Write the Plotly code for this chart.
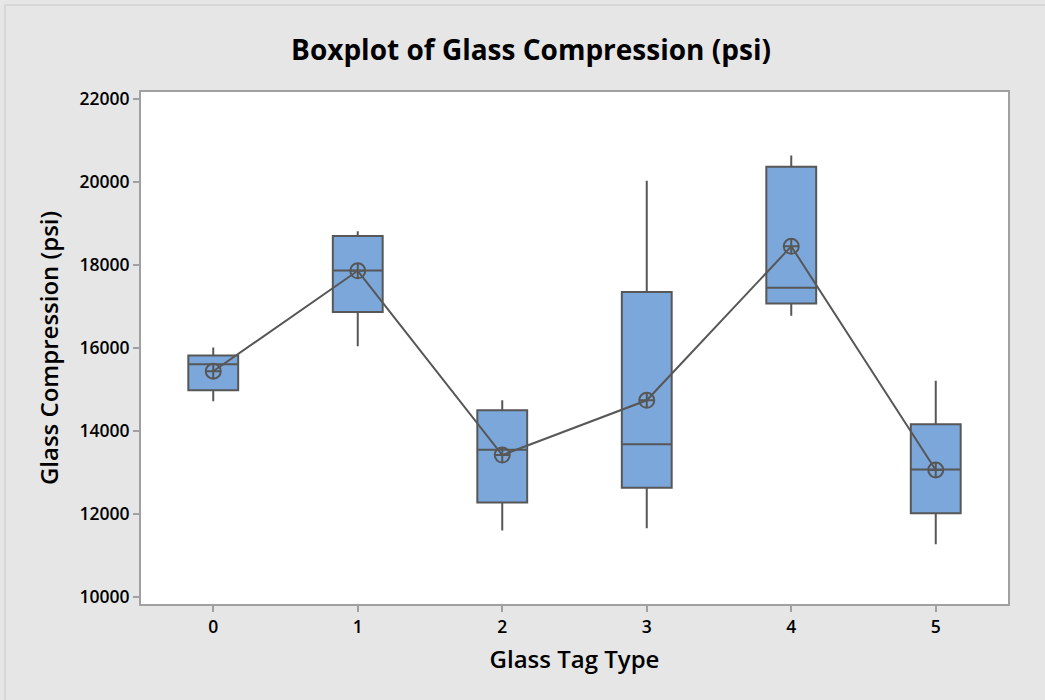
import plotly.graph_objects as go

# Glass tag types and summary statistics of compression (psi)
tag_types = [0, 1, 2, 3, 4, 5]
tick_labels = ["0", "1", "2", "3", "4", "5"]
y_ticks = [10000, 12000, 14000, 16000, 18000, 20000, 22000]
y_tick_labels = ["10000", "12000", "14000", "16000", "18000", "20000", "22000"]
whisker_low = [14720, 16040, 11600, 11660, 16780, 11270]
q1_vals = [14980, 16870, 12280, 12630, 17070, 12020]
medians = [15610, 17870, 13550, 13680, 17450, 13070]
q3_vals = [15820, 18700, 14500, 17350, 20370, 14160]
whisker_high = [16010, 18810, 14740, 20030, 20640, 15210]
means = [15440, 17860, 13420, 14740, 18450, 13060]

box_fill = "#7BA7DA"
line_col = "#575757"
font_family = "Open Sans, Noto Sans, DejaVu Sans, sans-serif"

fig = go.Figure()

for i, t in enumerate(tag_types):
    fig.add_trace(go.Box(
        x=[t],
        q1=[q1_vals[i]],
        median=[medians[i]],
        q3=[q3_vals[i]],
        lowerfence=[whisker_low[i]],
        upperfence=[whisker_high[i]],
        width=0.345,
        whiskerwidth=0,
        fillcolor=box_fill,
        line=dict(color=line_col, width=2),
        boxpoints=False,
        hoverinfo="skip",
        showlegend=False,
    ))

# Mean connect line with circle-cross markers
fig.add_trace(go.Scatter(
    x=tag_types,
    y=means,
    mode="lines+markers",
    line=dict(color=line_col, width=2),
    marker=dict(symbol="circle-cross-open", size=15,
                color=line_col, line=dict(color=line_col, width=2)),
    showlegend=False,
    hoverinfo="skip",
))

axis_line = "#a0a0a0"
tick_font = dict(family=font_family, size=17.5, color="black", weight=600)
label_font = dict(family=font_family, size=24, color="black", weight=600)

fig.update_layout(
    width=1045,
    height=700,
    paper_bgcolor="#e6e6e6",
    plot_bgcolor="white",
    margin=dict(l=141, r=37, t=92, b=96),
    title=dict(
        text="Boxplot of Glass Compression (psi)",
        x=531 / 1045, xref="container", xanchor="center",
        y=1 - 50 / 700, yref="container", yanchor="middle",
        font=dict(family=font_family, size=28, color="black", weight=700),
    ),
    font=dict(family=font_family, color="black"),
    showlegend=False,
)

fig.update_xaxes(
    type="linear",
    range=[-0.5, 5.5],
    tickmode="array",
    tickvals=tag_types,
    ticktext=tick_labels,
    ticks="outside",
    ticklen=6,
    tickwidth=2,
    tickcolor=axis_line,
    tickfont=tick_font,
    showgrid=False,
    zeroline=False,
    showline=True,
    linecolor=axis_line,
    linewidth=2,
    mirror=True,
    title=dict(text="Glass Tag Type", standoff=14, font=label_font),
)

fig.update_yaxes(
    range=[9832, 22168],
    tickmode="array",
    tickvals=y_ticks,
    ticktext=y_tick_labels,
    ticks="outside",
    ticklen=6,
    tickwidth=2,
    tickcolor=axis_line,
    tickfont=tick_font,
    showgrid=False,
    zeroline=False,
    showline=True,
    linecolor=axis_line,
    linewidth=2,
    mirror=True,
    title=dict(text="Glass Compression (psi)", standoff=14, font=label_font),
)

# Thin outer frame around the whole graph window
fig.add_shape(
    type="rect", xref="paper", yref="paper",
    x0=(5 - 141) / 867, x1=(1050 - 141) / 867,
    y0=(604 - 705) / 512, y1=(604 - 5) / 512,
    line=dict(color="#c8c8c8", width=1),
    fillcolor="rgba(0,0,0,0)",
    layer="below",
)

fig.write_html("out.html")
